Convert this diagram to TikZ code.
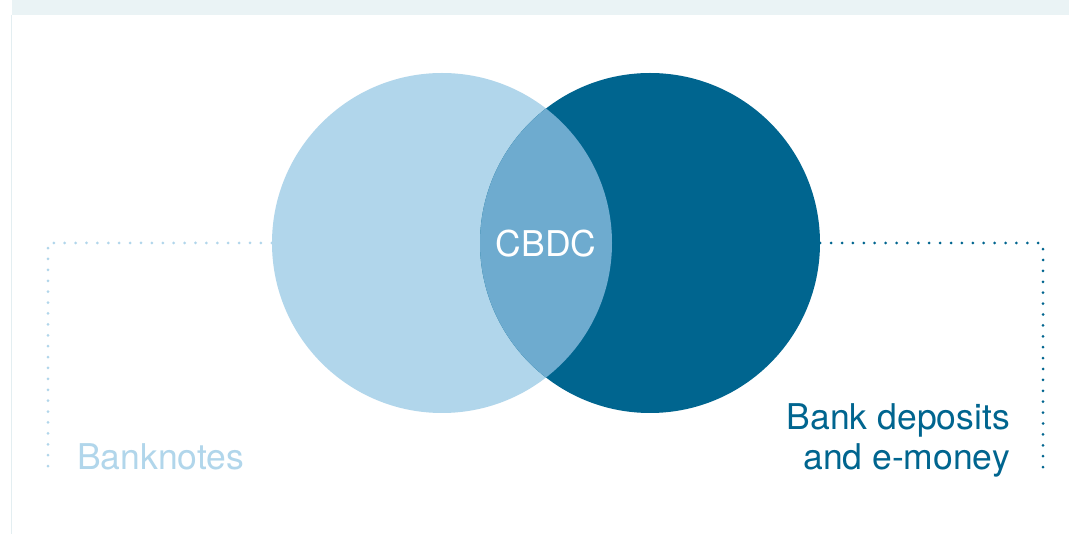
\documentclass[tikz,border=0pt]{standalone}
\usepackage{fontspec}
\setmainfont{TeX Gyre Heros}
\usetikzlibrary{positioning}

\begin{document}
\begin{tikzpicture}[x=1pt, y=-1pt,
    label text/.style={font=\fontsize{35.5}{40}\selectfont, inner sep=0pt},
    dotted link/.style={line width=3pt, line cap=round, dash pattern=on 0pt off 10.9pt}]

% Define colors
\definecolor{lightblue}{HTML}{B1D6EB}
\definecolor{midblue}{HTML}{6EABCF}
\definecolor{darkblue}{HTML}{00658F}
\definecolor{bandgray}{HTML}{EAF3F5}
\definecolor{edgegray}{HTML}{E3EEF1}

\useasboundingbox (0,0) rectangle (1069,534);
\fill[white] (0,0) rectangle (1069,534);

% Top band and left edge
\fill[bandgray] (12,0) rectangle (1069,15);
\draw[edgegray, line width=1pt] (11.5,15) -- (11.5,534);

% Draw the circles
\node[circle, fill=lightblue, minimum size=340pt, inner sep=0pt] (notes) at (442,243) {};
\node[circle, fill=darkblue, minimum size=340pt, inner sep=0pt] (deposits) at (650,243) {};
\begin{scope}
  \clip (442,243) circle (170pt);
  \fill[midblue] (650,243) circle (170pt);
\end{scope}

% Dotted connectors
\coordinate (notesCorner) at (48,243);
\coordinate (notesEnd) at (48,470);
\coordinate (depositsCorner) at (1043,243);
\coordinate (depositsEnd) at (1043,470);
\draw[dotted link, lightblue] (notes.west) -- (notesCorner) -- (notesEnd);
\draw[dotted link, darkblue] (deposits.east) -- (depositsCorner) -- (depositsEnd);

% Add labels
\node[label text, white] (cbdc) at (546,244) {CBDC};
\node[label text, lightblue, anchor=base west] (banknotes) at (77,470) {Banknotes};
\node[label text, darkblue, anchor=base east, align=right] (bank) at (1010,470) {Bank deposits\\and e-money};

\end{tikzpicture}
\end{document}
